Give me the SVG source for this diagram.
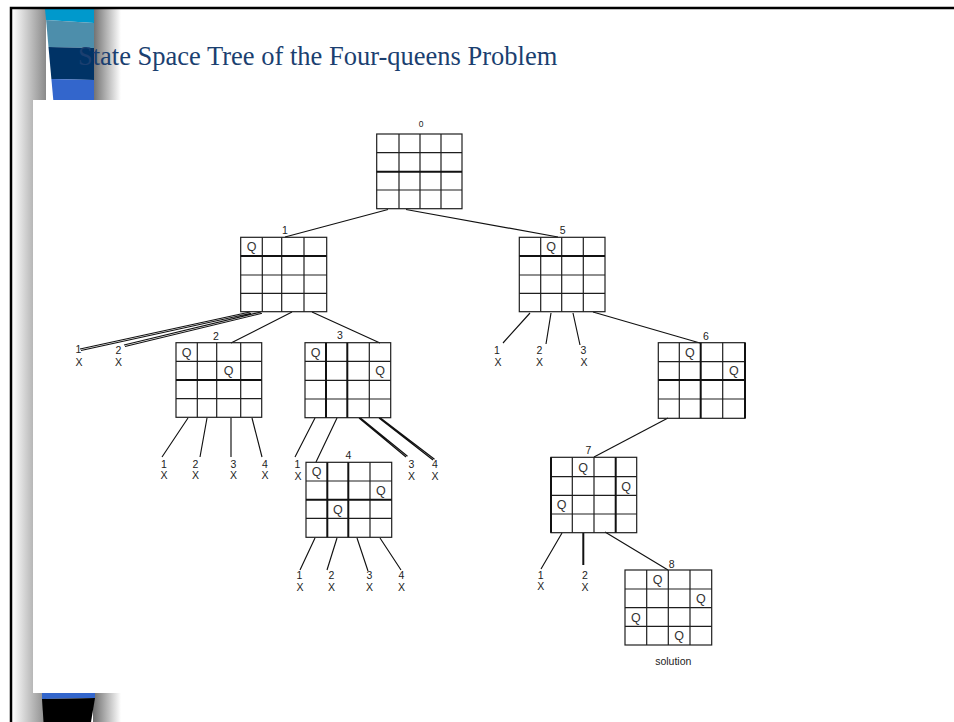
<svg xmlns="http://www.w3.org/2000/svg" width="954" height="722" viewBox="0 0 954 722">
<defs>
<linearGradient id="shL" x1="0" x2="1" y1="0" y2="0"><stop offset="0" stop-color="#ffffff"/><stop offset="1" stop-color="#8a8a8a"/></linearGradient>
<linearGradient id="shR" x1="0" x2="1" y1="0" y2="0"><stop offset="0" stop-color="#6e6e6e"/><stop offset="1" stop-color="#ffffff"/></linearGradient>
</defs>
<style>
.g{fill:none;stroke:#1e1e1e;stroke-width:1.2}
.t{fill:none;stroke:#111;stroke-width:2}
.c{fill:none;stroke:#111;stroke-width:1.15}
.q{font-family:"Liberation Sans",Arial,sans-serif;font-size:12.5px;fill:#333;text-anchor:middle}
.n{font-family:"Liberation Sans",Arial,sans-serif;font-size:10.5px;fill:#222;text-anchor:middle}
.title{font-family:"Liberation Serif","Times New Roman",serif;font-size:26.5px;fill:#1b3f70}
</style>
<rect x="0" y="0" width="954" height="722" fill="#fff"/>
<g id="decoration">
<rect x="12" y="8" width="34" height="714" fill="url(#shL)"/>
<rect x="93" y="8" width="28" height="714" fill="url(#shR)"/>
<polygon points="45,9 94,9 94,23 46.1,20" fill="#0099cc"/>
<polygon points="46.1,20 94,23 94,48 48.5,47" fill="#4d8eab"/>
<polygon points="48.5,47 94,48 94,80 51.4,79" fill="#003366"/>
<polygon points="51.4,79 94,80 94,100 53.3,100" fill="#3366cc"/>
<polygon points="42,693 95,693 95,698 42,699" fill="#3366cc"/>
<polygon points="42,699 95,698 91,722 43.5,722" fill="#000"/>
<rect x="33" y="100" width="921" height="593" fill="#fff"/>
<path d="M11,722V8H954" fill="none" stroke="#000" stroke-width="2.5"/>
</g>
<text class="title" x="78" y="65">State Space Tree of the Four-queens Problem</text>
<g id="connectors">
<path class="c" d="M388,209.5L285,237 M406,209.5L558,237"/>
<path class="c" d="M80,349L250,312 M81,350.5L251,313.3 M124,345L261,312 M125,346.5L262,313.3"/>
<path class="c" d="M292,312L231,343 M312,312L380,343"/>
<path class="c" d="M188,418L162,457 M207,418L200,457 M231,418L231,457 M252,418L262,457"/>
<path class="c" d="M315,418L295,457 M337,418L316,462 M359,418L406,457 M360.5,418L407.5,456.3 M379,418L433,460 M380.5,418L434.5,459.3"/>
<path class="c" d="M315,538L300,570 M337,538L327,570 M357,538L368,571 M380,538L401,570"/>
<path class="c" d="M530,313L503,343 M551,313L546,344 M573,313L580,345 M593,312L700,343"/>
<path class="c" d="M668,418L594,457"/>
<path class="c" d="M562,533L541,569 M605,532L668,570"/>
<path class="t" d="M583.3,533V565"/>
</g>
<g id="leaves">
<text class="n" x="78.5" y="353">1</text><text class="n" x="79" y="366.3">X</text>
<text class="n" x="118.5" y="353.6">2</text><text class="n" x="118.5" y="366.3">X</text>
<text class="n" x="164" y="467.6">1</text><text class="n" x="164" y="479.4">X</text>
<text class="n" x="195.5" y="467.8">2</text><text class="n" x="195.5" y="479.4">X</text>
<text class="n" x="233.5" y="467.8">3</text><text class="n" x="233.5" y="479.4">X</text>
<text class="n" x="265" y="467.8">4</text><text class="n" x="265" y="479.4">X</text>
<text class="n" x="297.5" y="467.6">1</text><text class="n" x="298" y="479.6">X</text>
<text class="n" x="411.5" y="468.3">3</text><text class="n" x="411.5" y="479.8">X</text>
<text class="n" x="435" y="468.3">4</text><text class="n" x="435" y="479.8">X</text>
<text class="n" x="299.5" y="579.4">1</text><text class="n" x="300" y="591">X</text>
<text class="n" x="331.5" y="579.4">2</text><text class="n" x="331.5" y="591">X</text>
<text class="n" x="369.5" y="579.4">3</text><text class="n" x="369.5" y="591">X</text>
<text class="n" x="401.5" y="579.4">4</text><text class="n" x="401.5" y="591">X</text>
<text class="n" x="497" y="353.6">1</text><text class="n" x="498" y="366.3">X</text>
<text class="n" x="539.5" y="354.3">2</text><text class="n" x="539.5" y="366.3">X</text>
<text class="n" x="583.5" y="354.3">3</text><text class="n" x="584" y="366.3">X</text>
<text class="n" x="540.7" y="578.6">1</text><text class="n" x="540.7" y="590.3">X</text>
<text class="n" x="585" y="578.6">2</text><text class="n" x="585" y="590.6">X</text>
</g>
<g id="node0">
<rect class="g" x="376.7" y="134" width="85.3" height="74.7"/>
<path class="g" d="M376.7,152.7H462 M376.7,190H462 M399,134V208.7 M420,134V208.7 M441,134V208.7"/>
<path class="t" d="M376.7,171.7H462"/>
<text class="n" x="421" y="127" style="font-size:8.5px">0</text>
</g>
<g id="node1">
<rect class="g" x="240.7" y="237.3" width="86" height="74.4"/>
<path class="g" d="M240.7,275H326.7 M240.7,293.3H326.7 M262.3,237.3V311.7 M281.7,237.3V311.7 M304,237.3V311.7"/>
<path class="t" d="M240.7,256H326.7"/>
<text class="q" x="251.5" y="251.2">Q</text>
<text class="n" x="285" y="233.6">1</text>
</g>
<g id="node5">
<rect class="g" x="519.3" y="237.3" width="85.7" height="74.4"/>
<path class="g" d="M519.3,275H605 M519.3,293.3H605 M540.7,237.3V311.7 M561.7,237.3V311.7 M583.3,237.3V311.7"/>
<path class="t" d="M519.3,256H605"/>
<text class="q" x="551.2" y="251.2">Q</text>
<text class="n" x="562.7" y="234.3">5</text>
</g>
<g id="node2">
<rect class="g" x="176" y="342.7" width="85.7" height="74.6"/>
<path class="g" d="M176,361.3H261.7 M176,398.7H261.7 M197.3,342.7V417.3 M216.7,342.7V417.3 M240.7,342.7V417.3"/>
<path class="t" d="M176,380H261.7"/>
<text class="q" x="186.7" y="356.5">Q</text>
<text class="q" x="228.7" y="375.2">Q</text>
<text class="n" x="216" y="339.6">2</text>
</g>
<g id="node3">
<rect class="g" x="305" y="342.7" width="85.7" height="75"/>
<path class="g" d="M305,361.3H390.7 M305,380.3H390.7 M305,399H390.7 M369.3,342.7V417.7"/>
<path class="t" d="M326,342.7V417.7 M347.3,342.7V417.7"/>
<text class="q" x="315.5" y="356.5">Q</text>
<text class="q" x="380" y="375.3">Q</text>
<text class="n" x="340" y="338.6">3</text>
</g>
<g id="node4">
<rect class="g" x="306" y="462.3" width="85.7" height="75"/>
<path class="g" d="M306,481H391.7 M306,518.3H391.7 M370,462.3V537.3"/>
<path class="t" d="M327.3,462.3V537.3 M348.3,462.3V537.3 M306,499.7H391.7"/>
<text class="q" x="316.7" y="476.2">Q</text>
<text class="q" x="380.9" y="494.9">Q</text>
<text class="q" x="337.8" y="513.5">Q</text>
<text class="n" x="348.3" y="458.6">4</text>
</g>
<g id="node6">
<rect class="g" x="658.3" y="342.7" width="86.7" height="75.6"/>
<path class="g" d="M658.3,361.7H745 M658.3,399H745 M679.3,342.7V418.3 M722.7,342.7V418.3"/>
<path class="t" d="M700.7,342.7V418.3 M658.3,380H745 M745,342.7V418.3"/>
<text class="q" x="689.8" y="356.7">Q</text>
<text class="q" x="733.9" y="375.4">Q</text>
<text class="n" x="706" y="339.6">6</text>
</g>
<g id="node7">
<rect class="g" x="551" y="457.3" width="85.7" height="75.4"/>
<path class="g" d="M551,476.7H636.7 M551,495.3H636.7 M551,514H636.7 M572.3,457.3V532.7 M594,457.3V532.7"/>
<path class="t" d="M551,457.3V532.7 M615.7,457.3V532.7"/>
<text class="q" x="583.2" y="471.5">Q</text>
<text class="q" x="626.2" y="490.5">Q</text>
<text class="q" x="561.7" y="509.2">Q</text>
<text class="n" x="588.3" y="454.3">7</text>
</g>
<g id="node8">
<rect class="g" x="625" y="570" width="86.7" height="75"/>
<path class="g" d="M625,589H711.7 M625,607.7H711.7 M625,626.3H711.7 M646.7,570V645 M668.3,570V645 M690,570V645"/>
<text class="q" x="657.5" y="584">Q</text>
<text class="q" x="700.9" y="602.9">Q</text>
<text class="q" x="635.9" y="621.5">Q</text>
<text class="q" x="679.2" y="640.2">Q</text>
<text class="n" x="671.7" y="567.9">8</text>
<text class="n" x="673.3" y="665.3">solution</text>
</g>
</svg>
